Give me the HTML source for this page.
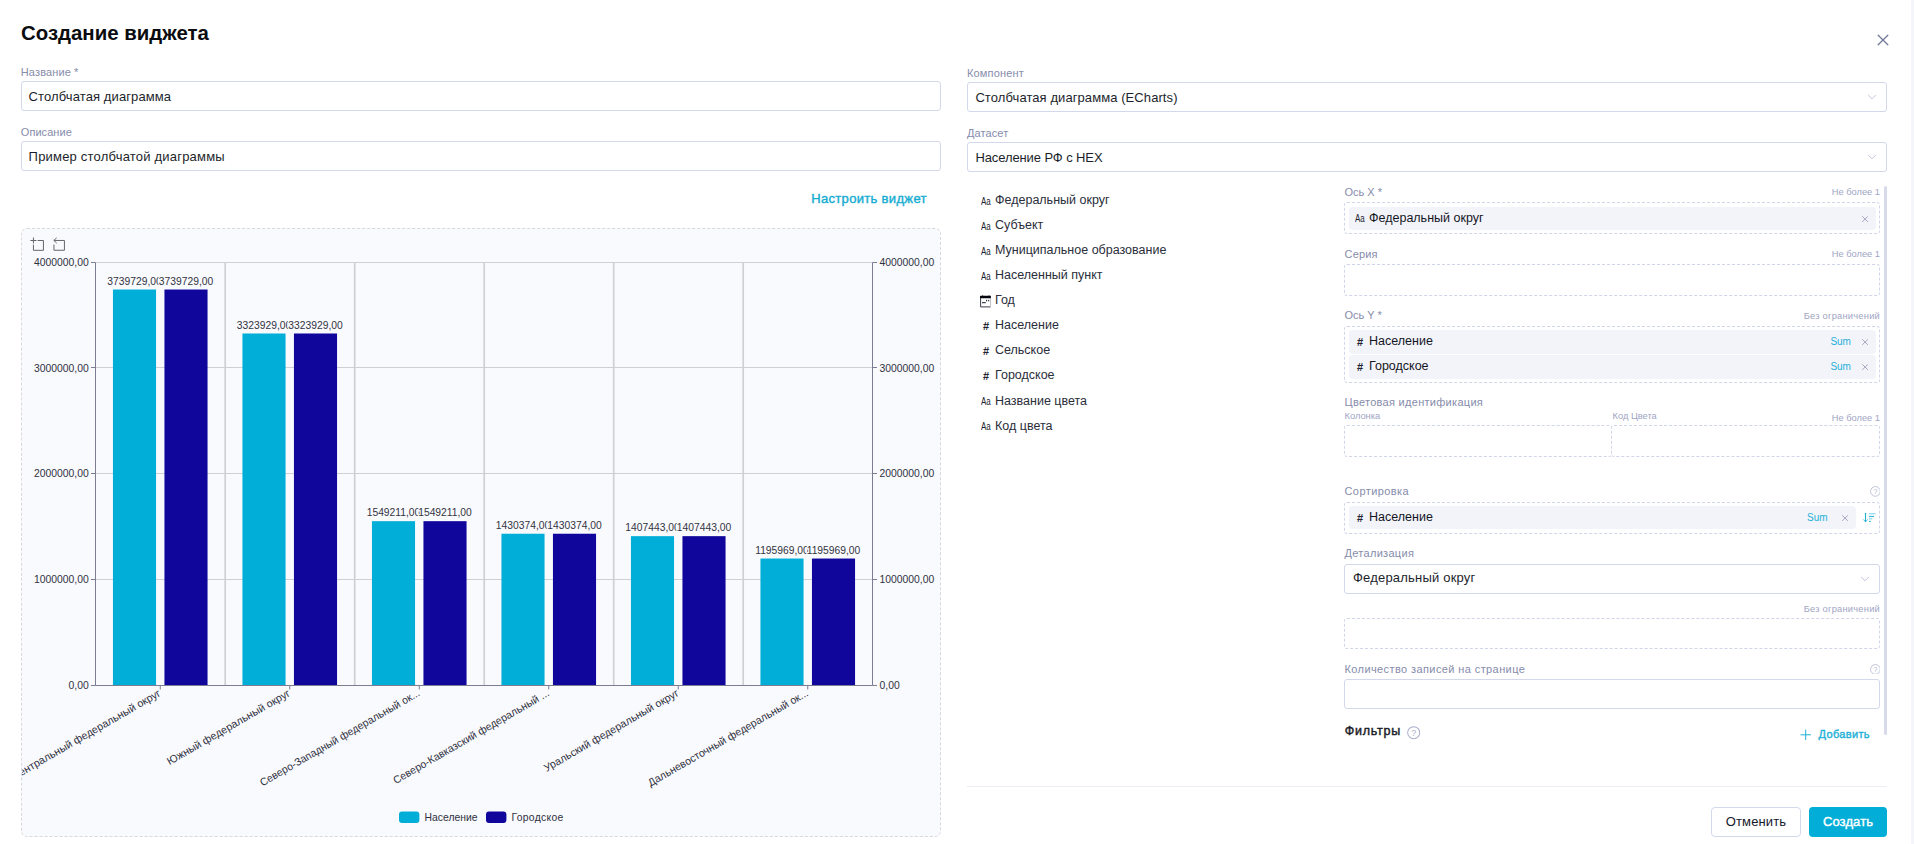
<!DOCTYPE html>
<html lang="ru">
<head>
<meta charset="utf-8">
<title>Создание виджета</title>
<style>
*{box-sizing:border-box;margin:0;padding:0}
html,body{width:1914px;height:844px;overflow:hidden;background:#fff}
body{font-family:"Liberation Sans",sans-serif;color:#1c1f2b;position:relative;font-size:13px}
.abs{position:absolute;white-space:nowrap}
.strip{left:1911px;top:0;width:3px;height:844px;background:#f3f5fa}
h1{position:absolute;left:21px;top:21px;font-size:20.4px;line-height:24px;font-weight:700;color:#0b0c10;white-space:nowrap}
.lbl{position:absolute;font-size:11px;line-height:14px;color:#868cab;white-space:nowrap}
.lbl.s{font-size:9.3px;line-height:12px;color:#a0a5c3}
.inp{position:absolute;height:30px;border:1px solid #d3d8ea;border-radius:3px;background:#fff;font-size:13px;line-height:29.6px;padding-left:6.6px;color:#1c1f2b;white-space:nowrap;letter-spacing:.1px}
.chev{position:absolute;right:9px;top:10px;width:10px;height:8px}
.link{color:#16acd2;font-size:13px;font-weight:400;-webkit-text-stroke:.4px #16acd2;letter-spacing:.33px}
.chartbox{left:21px;top:228px;width:920px;height:609px;border:1px dashed #d9d9db;border-radius:6px;background:#f9fafe}
.fld{position:absolute;left:995px;font-size:12.5px;line-height:16px;color:#2a2d3a;white-space:nowrap}
.ico{position:absolute;left:981px;font-size:10.2px;line-height:16px;color:#20222e;transform:scaleX(.78);transform-origin:0 0;white-space:nowrap}
.drop{position:absolute;border:1px dashed #d0d5e9;border-radius:3px;background:#fff}
.chip{position:absolute;height:23px;background:#f3f4fa;border-radius:4px;font-size:12.5px;line-height:23px;color:#15171f;white-space:nowrap}
.sum{position:absolute;font-size:10px;color:#1fb0d6;line-height:23px}
.x{position:absolute;width:6.2px;height:6.2px}
.ico.hash{font-size:11px;font-weight:700;transform:none}
.btn{height:30px;border-radius:4px;text-align:center;font-size:13px;line-height:30px}
.btn[style*="border"]{line-height:28px}
</style>
</head>
<body>
<div class="abs strip"></div>
<h1>Создание виджета</h1>
<!-- left column -->
<div class="lbl" style="left:20.8px;top:65px;letter-spacing:.12px">Название *</div>
<div class="inp" style="left:21px;top:81px;width:920px">Столбчатая диаграмма</div>
<div class="lbl" style="left:20.8px;top:125px;letter-spacing:.05px">Описание</div>
<div class="inp" style="left:21px;top:141px;width:920px;letter-spacing:.2px">Пример столбчатой диаграммы</div>
<div class="abs link" style="left:811.2px;top:191.2px;line-height:16px">Настроить виджет</div>
<div class="abs chartbox"></div>
<svg class="abs" style="left:22px;top:229px" width="918" height="607" viewBox="22 229 918 607" font-family="Liberation Sans, sans-serif" font-size="10.37">
<line x1="95.5" x2="872.5" y1="262.50" y2="262.50" stroke="#cfcfd5" stroke-width="1"/>
<line x1="95.5" x2="872.5" y1="367.50" y2="367.50" stroke="#cfcfd5" stroke-width="1"/>
<line x1="95.5" x2="872.5" y1="473.50" y2="473.50" stroke="#cfcfd5" stroke-width="1"/>
<line x1="95.5" x2="872.5" y1="579.50" y2="579.50" stroke="#cfcfd5" stroke-width="1"/>
<line x1="95.5" x2="872.5" y1="685.50" y2="685.50" stroke="#cfcfd5" stroke-width="1"/>
<line x1="225.20" x2="225.20" y1="262.5" y2="685.5" stroke="#cfcfd5" stroke-width="1.7"/>
<line x1="354.70" x2="354.70" y1="262.5" y2="685.5" stroke="#cfcfd5" stroke-width="1.7"/>
<line x1="484.20" x2="484.20" y1="262.5" y2="685.5" stroke="#cfcfd5" stroke-width="1.7"/>
<line x1="613.70" x2="613.70" y1="262.5" y2="685.5" stroke="#cfcfd5" stroke-width="1.7"/>
<line x1="743.20" x2="743.20" y1="262.5" y2="685.5" stroke="#cfcfd5" stroke-width="1.7"/>
<rect x="112.95" y="289.52" width="43.1" height="395.48" fill="#00aed8"/>
<rect x="164.45" y="289.52" width="43.1" height="395.48" fill="#10069c"/>
<rect x="242.45" y="333.49" width="43.1" height="351.51" fill="#00aed8"/>
<rect x="293.95" y="333.49" width="43.1" height="351.51" fill="#10069c"/>
<rect x="371.95" y="521.17" width="43.1" height="163.83" fill="#00aed8"/>
<rect x="423.45" y="521.17" width="43.1" height="163.83" fill="#10069c"/>
<rect x="501.45" y="533.74" width="43.1" height="151.26" fill="#00aed8"/>
<rect x="552.95" y="533.74" width="43.1" height="151.26" fill="#10069c"/>
<rect x="630.95" y="536.16" width="43.1" height="148.84" fill="#00aed8"/>
<rect x="682.45" y="536.16" width="43.1" height="148.84" fill="#10069c"/>
<rect x="760.45" y="558.53" width="43.1" height="126.47" fill="#00aed8"/>
<rect x="811.95" y="558.53" width="43.1" height="126.47" fill="#10069c"/>
<g stroke="#7c7d92" stroke-width="1" fill="none">
<line x1="95.5" x2="95.5" y1="262.5" y2="685.5"/><line x1="872.5" x2="872.5" y1="262.5" y2="685.5"/>
<line x1="95.5" x2="872.5" y1="685.5" y2="685.5"/>
<line x1="91.0" x2="95.5" y1="262.50" y2="262.50"/><line x1="872.5" x2="877.0" y1="262.50" y2="262.50"/>
<line x1="91.0" x2="95.5" y1="367.50" y2="367.50"/><line x1="872.5" x2="877.0" y1="367.50" y2="367.50"/>
<line x1="91.0" x2="95.5" y1="473.50" y2="473.50"/><line x1="872.5" x2="877.0" y1="473.50" y2="473.50"/>
<line x1="91.0" x2="95.5" y1="579.50" y2="579.50"/><line x1="872.5" x2="877.0" y1="579.50" y2="579.50"/>
<line x1="91.0" x2="95.5" y1="685.50" y2="685.50"/><line x1="872.5" x2="877.0" y1="685.50" y2="685.50"/>
<line x1="160.25" x2="160.25" y1="685.5" y2="689.5"/>
<line x1="289.75" x2="289.75" y1="685.5" y2="689.5"/>
<line x1="419.25" x2="419.25" y1="685.5" y2="689.5"/>
<line x1="548.75" x2="548.75" y1="685.5" y2="689.5"/>
<line x1="678.25" x2="678.25" y1="685.5" y2="689.5"/>
<line x1="807.75" x2="807.75" y1="685.5" y2="689.5"/>
</g>
<text x="88.7" y="265.75" text-anchor="end" fill="#2f3140">4000000,00</text>
<text x="879.5" y="265.75" fill="#2f3140">4000000,00</text>
<text x="88.7" y="371.50" text-anchor="end" fill="#2f3140">3000000,00</text>
<text x="879.5" y="371.50" fill="#2f3140">3000000,00</text>
<text x="88.7" y="477.25" text-anchor="end" fill="#2f3140">2000000,00</text>
<text x="879.5" y="477.25" fill="#2f3140">2000000,00</text>
<text x="88.7" y="583.00" text-anchor="end" fill="#2f3140">1000000,00</text>
<text x="879.5" y="583.00" fill="#2f3140">1000000,00</text>
<text x="88.7" y="688.75" text-anchor="end" fill="#2f3140">0,00</text>
<text x="879.5" y="688.75" fill="#2f3140">0,00</text>
<text x="134.50" y="284.72" text-anchor="middle" fill="#33343f" stroke="#f9fafe" stroke-width="2.4" stroke-linejoin="round" paint-order="stroke" font-size="10.3">3739729,00</text>
<text x="186.00" y="284.72" text-anchor="middle" fill="#33343f" stroke="#f9fafe" stroke-width="2.4" stroke-linejoin="round" paint-order="stroke" font-size="10.3">3739729,00</text>
<text x="264.00" y="328.69" text-anchor="middle" fill="#33343f" stroke="#f9fafe" stroke-width="2.4" stroke-linejoin="round" paint-order="stroke" font-size="10.3">3323929,00</text>
<text x="315.50" y="328.69" text-anchor="middle" fill="#33343f" stroke="#f9fafe" stroke-width="2.4" stroke-linejoin="round" paint-order="stroke" font-size="10.3">3323929,00</text>
<text x="393.50" y="516.37" text-anchor="middle" fill="#33343f" stroke="#f9fafe" stroke-width="2.4" stroke-linejoin="round" paint-order="stroke" font-size="10.3">1549211,00</text>
<text x="445.00" y="516.37" text-anchor="middle" fill="#33343f" stroke="#f9fafe" stroke-width="2.4" stroke-linejoin="round" paint-order="stroke" font-size="10.3">1549211,00</text>
<text x="523.00" y="528.94" text-anchor="middle" fill="#33343f" stroke="#f9fafe" stroke-width="2.4" stroke-linejoin="round" paint-order="stroke" font-size="10.3">1430374,00</text>
<text x="574.50" y="528.94" text-anchor="middle" fill="#33343f" stroke="#f9fafe" stroke-width="2.4" stroke-linejoin="round" paint-order="stroke" font-size="10.3">1430374,00</text>
<text x="652.50" y="531.36" text-anchor="middle" fill="#33343f" stroke="#f9fafe" stroke-width="2.4" stroke-linejoin="round" paint-order="stroke" font-size="10.3">1407443,00</text>
<text x="704.00" y="531.36" text-anchor="middle" fill="#33343f" stroke="#f9fafe" stroke-width="2.4" stroke-linejoin="round" paint-order="stroke" font-size="10.3">1407443,00</text>
<text x="782.00" y="553.73" text-anchor="middle" fill="#33343f" stroke="#f9fafe" stroke-width="2.4" stroke-linejoin="round" paint-order="stroke" font-size="10.3">1195969,00</text>
<text x="833.50" y="553.73" text-anchor="middle" fill="#33343f" stroke="#f9fafe" stroke-width="2.4" stroke-linejoin="round" paint-order="stroke" font-size="10.3">1195969,00</text>
<text transform="translate(160.25,693.0) rotate(-30)" text-anchor="end" y="2.5" fill="#2f3140" font-size="10.6" textLength="170.0" lengthAdjust="spacingAndGlyphs">Центральный федеральный округ</text>
<text transform="translate(289.75,693.0) rotate(-30)" text-anchor="end" y="2.5" fill="#2f3140" font-size="10.6" textLength="140.3" lengthAdjust="spacingAndGlyphs">Южный федеральный округ</text>
<text transform="translate(419.25,693.0) rotate(-30)" text-anchor="end" y="2.5" fill="#2f3140" font-size="10.6" textLength="182.5" lengthAdjust="spacingAndGlyphs">Северо-Западный федеральный ок...</text>
<text transform="translate(548.75,693.0) rotate(-30)" text-anchor="end" y="2.5" fill="#2f3140" font-size="10.6" textLength="178.2" lengthAdjust="spacingAndGlyphs">Северо-Кавказский федеральный ...</text>
<text transform="translate(678.25,693.0) rotate(-30)" text-anchor="end" y="2.5" fill="#2f3140" font-size="10.6" textLength="153.7" lengthAdjust="spacingAndGlyphs">Уральский федеральный округ</text>
<text transform="translate(807.75,693.0) rotate(-30)" text-anchor="end" y="2.5" fill="#2f3140" font-size="10.6" textLength="183.0" lengthAdjust="spacingAndGlyphs">Дальневосточный федеральный ок...</text>
<rect x="399" y="811.4" width="20.4" height="11.6" rx="3" fill="#00aed8"/>
<text x="424.6" y="820.9" fill="#2f3140">Население</text>
<rect x="486" y="811.4" width="20.4" height="11.6" rx="3" fill="#10069c"/>
<text x="511.6" y="820.9" fill="#2f3140" letter-spacing=".28">Городское</text>
<g fill="none" stroke="#666" stroke-width="1" stroke-linecap="butt" stroke-linejoin="round">
<path transform="translate(30.4,237.5) scale(0.2247,0.2211)" vector-effect="non-scaling-stroke" d="M0,13.5h26.9 M13.5,26.9V0 M32.1,13.5H58V58H13.5 V32.1"/>
<path transform="translate(51.5,237.5) scale(0.2356,0.2197)" vector-effect="non-scaling-stroke" d="M22,1.4L9.9,13.5l12.3,12.3 M10.3,13.5H54.9v44.6 H10.3v-26"/>
</g>
</svg>
<svg class="abs" style="left:1876px;top:33px" width="14" height="14" viewBox="0 0 14 14"><path d="M2.2 2.2L11.8 11.8M11.8 2.2L2.2 11.8" stroke="#727997" stroke-width="1.3" fill="none" stroke-linecap="round"/></svg>
<div class="lbl" style="left:967px;top:66px;letter-spacing:.15px">Компонент</div>
<div class="inp" style="left:967px;top:82px;width:920px;padding-left:7.4px;letter-spacing:.08px">Столбчатая диаграмма (ECharts)<svg class="chev" viewBox="0 0 10 8"><path d="M1.4 2.2L5 5.8L8.6 2.2" stroke="#c2c7df" stroke-width="1" fill="none" stroke-linecap="round" stroke-linejoin="round"/></svg></div>
<div class="lbl" style="left:967px;top:126px;letter-spacing:.1px">Датасет</div>
<div class="inp" style="left:967px;top:142px;width:920px;padding-left:7.4px;letter-spacing:-.1px">Население РФ с HEX<svg class="chev" viewBox="0 0 10 8"><path d="M1.4 2.2L5 5.8L8.6 2.2" stroke="#c2c7df" stroke-width="1" fill="none" stroke-linecap="round" stroke-linejoin="round"/></svg></div>
<div class="ico" style="left:980.8px;top:193.64px">Aa</div>
<div class="fld" style="top:192.0px">Федеральный округ</div>
<div class="ico" style="left:980.8px;top:218.64px">Aa</div>
<div class="fld" style="top:217.1px">Субъект</div>
<div class="ico" style="left:980.8px;top:243.64px">Aa</div>
<div class="fld" style="top:242.0px">Муниципальное образование</div>
<div class="ico" style="left:980.8px;top:268.64px">Aa</div>
<div class="fld" style="top:267.0px">Населенный пункт</div>
<svg class="abs" style="left:980px;top:294.5px" width="12" height="13" viewBox="0 0 12 13"><path d="M0.6 1V11.9H10.6" fill="none" stroke="#3a3c49" stroke-width="1"/><path d="M10.5 3V11.6" stroke="#c4c6cf" stroke-width="1"/><rect x="0.1" y="0.8" width="10.8" height="2.4" rx="0.5" fill="#05060f"/><rect x="2.2" y="0.4" width="0.9" height="1" fill="#05060f"/><rect x="8.6" y="0.4" width="0.9" height="1" fill="#05060f"/><rect x="6.1" y="4.8" width="1" height="1.5" fill="#1a1c28"/><rect x="8.2" y="4.8" width="1" height="1.5" fill="#1a1c28"/><rect x="2" y="7.2" width="3.8" height="1" fill="#1a1c28"/></svg>
<div class="fld" style="top:292.0px">Год</div>
<div class="ico hash" style="left:982.9px;top:318.4px">#</div>
<div class="fld" style="top:317.0px">Население</div>
<div class="ico hash" style="left:982.9px;top:343.4px">#</div>
<div class="fld" style="top:342.0px">Сельское</div>
<div class="ico hash" style="left:982.9px;top:368.4px">#</div>
<div class="fld" style="top:367.0px">Городское</div>
<div class="ico" style="left:980.8px;top:393.64px">Aa</div>
<div class="fld" style="top:392.7px">Название цвета</div>
<div class="ico" style="left:980.8px;top:418.64px">Aa</div>
<div class="fld" style="top:417.7px">Код цвета</div>
<div class="lbl" style="left:1344.5px;top:185.36px;">Ось X *</div>
<div class="lbl s" style="right:34px;top:186.4px;">Не более 1</div>
<div class="drop" style="left:1344px;top:202px;width:536px;height:32px"></div>
<div class="chip" style="left:1349px;top:207px;width:527px;height:23px"></div>
<div class="ico" style="left:1354.7px;top:210.64px">Aa</div>
<div class="fld" style="left:1369px;top:209.8px;color:#14161f">Федеральный округ</div>
<svg class="x" style="left:1861.7px;top:215.6px" viewBox="0 0 7 7"><path d="M0.6 0.6L6.4 6.4M6.4 0.6L0.6 6.4" stroke="#9194b2" stroke-width="0.9" fill="none" stroke-linecap="round"/></svg>
<div class="lbl" style="left:1344.5px;top:247.36px;letter-spacing:.2px">Серия</div>
<div class="lbl s" style="right:34px;top:247.9px;">Не более 1</div>
<div class="drop" style="left:1344px;top:264px;width:536px;height:32px"></div>
<div class="lbl" style="left:1344.5px;top:308.36px;">Ось Y *</div>
<div class="lbl s" style="right:34px;top:310.3px;letter-spacing:.24px">Без ограничений</div>
<div class="drop" style="left:1344px;top:326px;width:536px;height:57px"></div>
<div class="chip" style="left:1349px;top:330.2px;width:527px;height:23.4px"></div>
<div class="ico hash" style="left:1357px;top:333.9px">#</div>
<div class="fld" style="left:1369px;top:333.0px;color:#14161f">Население</div>
<div class="sum" style="left:1830.4px;top:330.2px">Sum</div>
<svg class="x" style="left:1861.7px;top:338.8px" viewBox="0 0 7 7"><path d="M0.6 0.6L6.4 6.4M6.4 0.6L0.6 6.4" stroke="#9194b2" stroke-width="0.9" fill="none" stroke-linecap="round"/></svg>
<div class="chip" style="left:1349px;top:355.3px;width:527px;height:23.4px"></div>
<div class="ico hash" style="left:1357px;top:359.0px">#</div>
<div class="fld" style="left:1369px;top:358.1px;color:#14161f">Городское</div>
<div class="sum" style="left:1830.4px;top:355.3px">Sum</div>
<svg class="x" style="left:1861.7px;top:363.9px" viewBox="0 0 7 7"><path d="M0.6 0.6L6.4 6.4M6.4 0.6L0.6 6.4" stroke="#9194b2" stroke-width="0.9" fill="none" stroke-linecap="round"/></svg>
<div class="lbl" style="left:1344.5px;top:395.36px;letter-spacing:.29px">Цветовая идентификация</div>
<div class="lbl s" style="left:1344.5px;top:410.3px;font-size:9.3px">Колонка</div>
<div class="lbl s" style="left:1612.5px;top:410.3px;font-size:9.3px">Код Цвета</div>
<div class="lbl s" style="right:34px;top:411.8px;">Не более 1</div>
<div class="drop" style="left:1344px;top:425px;width:268px;height:32px"></div>
<div class="drop" style="left:1611px;top:425px;width:269px;height:32px"></div>
<div class="lbl" style="left:1344.5px;top:484.36px;letter-spacing:.42px">Сортировка</div>
<svg class="abs" style="left:1869.6px;top:486.4px" width="10.8" height="10.8" viewBox="0 0 12 12"><circle cx="6" cy="6" r="5.4" fill="none" stroke="#b3b8d0" stroke-width="0.9"/><text x="6" y="8.9" font-size="8" text-anchor="middle" fill="#b3b8d0" font-family="Liberation Sans, sans-serif">?</text></svg>
<div class="drop" style="left:1344px;top:502px;width:536px;height:32px"></div>
<div class="chip" style="left:1349px;top:506.1px;width:507px;height:22.6px"></div>
<div class="ico hash" style="left:1357px;top:509.8px">#</div>
<div class="fld" style="left:1369px;top:508.9px;color:#14161f">Население</div>
<div class="sum" style="left:1807.0px;top:506.1px">Sum</div>
<svg class="x" style="left:1841.7px;top:514.7px" viewBox="0 0 7 7"><path d="M0.6 0.6L6.4 6.4M6.4 0.6L0.6 6.4" stroke="#9194b2" stroke-width="0.9" fill="none" stroke-linecap="round"/></svg>
<svg class="abs" style="left:1862px;top:511px" width="16" height="13" viewBox="0 0 16 13"><g fill="none" stroke="#1fb1d6" stroke-linecap="round" stroke-linejoin="round"><path stroke-width="1.1" d="M3.5 2.2V10.4"/><path stroke-width=".6" d="M1.5 8.6L3.5 10.9L5.5 8.6"/><path fill="#1fb1d6" stroke="none" d="M2.3 9.1L3.5 11.3L4.7 9.1Z"/><path stroke-width="1" d="M7.3 5.4h4.3"/><path stroke-width="1" stroke="#6fcde6" d="M7.3 2.8h5.8M7.3 7.8h2.6"/><path stroke-width="1" d="M7.3 10.4h1.2"/></g></svg>
<div class="lbl" style="left:1344.5px;top:546.36px;letter-spacing:.3px">Детализация</div>
<div class="inp" style="left:1344px;top:564px;width:536px;padding-left:8px;line-height:25.4px;letter-spacing:.2px">Федеральный округ<svg class="chev" style="right:9px" viewBox="0 0 10 8"><path d="M1.4 2.2L5 5.8L8.6 2.2" stroke="#c2c7df" stroke-width="1" fill="none" stroke-linecap="round" stroke-linejoin="round"/></svg></div>
<div class="lbl s" style="right:34px;top:603.3px;letter-spacing:.24px">Без ограничений</div>
<div class="drop" style="left:1344px;top:618px;width:536px;height:31px"></div>
<div class="lbl" style="left:1344.5px;top:662.36px;letter-spacing:.4px">Количество записей на странице</div>
<svg class="abs" style="left:1869.6px;top:663.6px" width="10.8" height="10.8" viewBox="0 0 12 12"><circle cx="6" cy="6" r="5.4" fill="none" stroke="#b3b8d0" stroke-width="0.9"/><text x="6" y="8.9" font-size="8" text-anchor="middle" fill="#b3b8d0" font-family="Liberation Sans, sans-serif">?</text></svg>
<div class="inp" style="left:1344px;top:679px;width:536px"></div>
<div class="abs" style="left:1344.7px;top:724.4px;font-size:12.5px;line-height:15px;-webkit-text-stroke:.45px #1b1d28;letter-spacing:.75px;color:#1b1d28">Фильтры</div>
<svg class="abs" style="left:1406.8px;top:726.4px" width="13.4" height="13.4" viewBox="0 0 12 12"><circle cx="6" cy="6" r="5.4" fill="none" stroke="#a9aeca" stroke-width="0.9"/><text x="6" y="8.9" font-size="8" text-anchor="middle" fill="#a9aeca" font-family="Liberation Sans, sans-serif">?</text></svg>
<svg class="abs" style="left:1800px;top:729px" width="12" height="12" viewBox="0 0 12 12"><path d="M5.7 1v9.6M0.9 5.8h9.6" stroke="#1fb1d6" stroke-width="1" fill="none" stroke-linecap="round"/></svg>
<div class="abs" style="left:1818.6px;top:728.2px;font-size:11px;line-height:13px;-webkit-text-stroke:.4px #1fb1d6;letter-spacing:.33px;color:#1fb1d6">Добавить</div>
<div class="abs" style="left:1884px;top:186px;width:3px;height:549px;border-radius:2px;background:#d6daeb"></div>
<div class="abs" style="left:967px;top:786px;width:920px;height:1px;background:#eceef5"></div>
<div class="abs btn" style="left:1711px;top:807px;width:90px;border:1px solid #d3d8ea;background:#fff;color:#15172b;letter-spacing:.15px">Отменить</div>
<div class="abs btn" style="left:1809px;top:807px;width:78px;background:#02add7;color:#fff;-webkit-text-stroke:.4px #fff;letter-spacing:.12px">Создать</div>
</body>
</html>
